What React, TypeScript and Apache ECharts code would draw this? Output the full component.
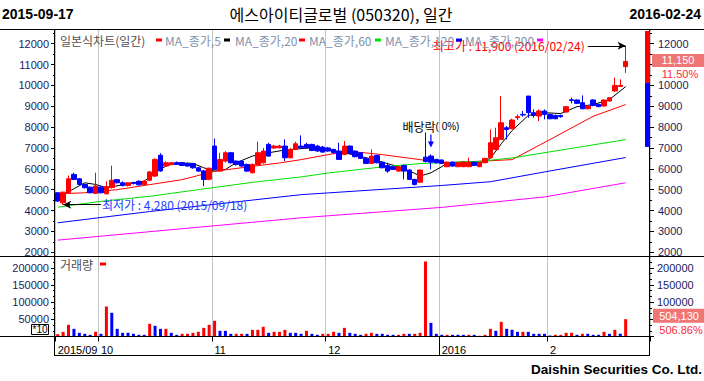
import React, { useEffect, useRef } from 'react';
import * as echarts from 'echarts';

// ---------------- data ----------------
const dates: string[] = [
  '2015/09/17', '2015/09/18', '2015/09/21', '2015/09/22', '2015/09/23', '2015/09/24', '2015/09/25', '2015/09/30',
  '2015/10/01', '2015/10/02', '2015/10/05', '2015/10/06', '2015/10/07', '2015/10/08', '2015/10/12', '2015/10/13',
  '2015/10/14', '2015/10/15', '2015/10/16', '2015/10/19', '2015/10/20', '2015/10/21', '2015/10/22', '2015/10/23',
  '2015/10/26', '2015/10/27', '2015/10/28', '2015/10/29', '2015/10/30',
  '2015/11/02', '2015/11/03', '2015/11/04', '2015/11/05', '2015/11/06', '2015/11/09', '2015/11/10', '2015/11/11',
  '2015/11/12', '2015/11/13', '2015/11/16', '2015/11/17', '2015/11/18', '2015/11/19', '2015/11/20', '2015/11/23',
  '2015/11/24', '2015/11/25', '2015/11/26', '2015/11/27', '2015/11/30',
  '2015/12/01', '2015/12/02', '2015/12/03', '2015/12/04', '2015/12/07', '2015/12/08', '2015/12/09', '2015/12/10',
  '2015/12/11', '2015/12/14', '2015/12/15', '2015/12/16', '2015/12/17', '2015/12/18', '2015/12/21', '2015/12/22',
  '2015/12/23', '2015/12/24', '2015/12/28', '2015/12/29', '2015/12/30',
  '2016/01/04', '2016/01/05', '2016/01/06', '2016/01/07', '2016/01/08', '2016/01/11', '2016/01/12', '2016/01/13',
  '2016/01/14', '2016/01/15', '2016/01/18', '2016/01/19', '2016/01/20', '2016/01/21', '2016/01/22', '2016/01/25',
  '2016/01/26', '2016/01/27', '2016/01/28', '2016/01/29',
  '2016/02/01', '2016/02/02', '2016/02/03', '2016/02/04', '2016/02/05', '2016/02/11', '2016/02/12', '2016/02/15',
  '2016/02/16', '2016/02/17', '2016/02/18', '2016/02/19', '2016/02/22', '2016/02/23', '2016/02/24',
];
const blankSlots: string[] = ['_a', '_b', '_c', '_d'];

const opens: number[] = [
  4850, 4370, 4850, 5730, 5520, 5250, 5120, 4820,
  5120, 4800, 5100, 5480, 5330, 5200, 5330, 5400, 5250, 5450, 5650, 6650, 6130, 6200, 6290, 6290, 6250, 6250, 6050, 5900, 5500,
  7090, 5890, 6370, 6770, 6370, 6370, 6210, 5810, 6210, 6290, 7170, 7000, 7010, 7090, 6530, 6930, 7090, 7170, 7170, 7090, 7040,
  7000, 6930, 6850, 6690, 7090, 6850, 6770, 6500, 6260, 6640, 6320, 6160, 6100, 5890, 6160, 5940, 5490, 5360, 6560, 6610, 6450,
  6420, 6100, 6320, 6100, 6100, 6100, 6320, 6100, 6290, 6530, 6930, 7410, 7970, 7920, 8450, 8610, 9490, 8690, 8530, 8770,
  8610, 8560, 8560, 8720, 9310, 9300, 9170, 8880, 9300, 9090, 9010, 9250, 9730, 9950, 10900,
];
const highs: number[] = [
  4880, 4900, 5680, 5810, 5560, 5280, 5150, 5810,
  5200, 5400, 6150, 5500, 5400, 5350, 5380, 5450, 5450, 5900, 6500, 6750, 6350, 6330, 6350, 6330, 6300, 6280, 6100, 5950, 6050,
  7450, 6770, 6850, 6800, 6400, 6400, 6250, 6250, 7300, 7000, 7250, 7150, 7150, 7410, 7000, 7300, 7600, 7250, 7200, 7150, 7100,
  7050, 6960, 7250, 7330, 7120, 6880, 6800, 6530, 6930, 6680, 6350, 6290, 6150, 6130, 6200, 5970, 5520, 5960, 7740, 6690, 6480,
  6450, 6350, 6350, 6320, 6350, 6530, 6350, 6320, 6530, 7890, 7970, 9490, 8050, 8400, 8610, 8770, 9490, 8850, 8850, 8850,
  8650, 8600, 8600, 9000, 9410, 9330, 9520, 9050, 9330, 9120, 9320, 9430, 10370, 10290, 11900,
];
const lows: number[] = [
  4420, 4280, 4820, 5470, 5230, 5060, 4830, 4800,
  4820, 4780, 5050, 5300, 5150, 5150, 5250, 5200, 5200, 5420, 5600, 5850, 6100, 6180, 6200, 6150, 6100, 6000, 5850, 5170, 5450,
  5950, 5850, 6300, 6250, 6150, 6100, 5850, 5780, 6180, 6250, 6580, 6950, 6980, 6370, 6500, 6900, 6980, 6980, 6850, 6820, 6780,
  6820, 6740, 6420, 6650, 6700, 6550, 6470, 6230, 6230, 6260, 6020, 5810, 5950, 5860, 5490, 5460, 5200, 5340, 6300, 5970, 6260,
  6230, 6080, 6100, 6080, 6080, 6080, 6130, 6080, 6270, 6500, 6900, 7380, 7410, 7900, 8340, 8500, 8450, 8450, 8290, 8370,
  8380, 8380, 8450, 8700, 9140, 9120, 8860, 8850, 9000, 8960, 8990, 9230, 9700, 9940, 10600,
];
const closes: number[] = [
  4450, 4880, 5520, 5490, 5250, 5090, 4850, 5170,
  4850, 5150, 5450, 5330, 5200, 5330, 5300, 5230, 5400, 5850, 6450, 5900, 6290, 6290, 6210, 6160, 6130, 6050, 5890, 5490, 6030,
  5970, 6450, 6770, 6290, 6210, 6130, 5890, 6210, 6770, 6850, 6610, 7090, 7090, 6530, 6930, 7200, 7010, 7010, 6880, 6850, 6800,
  6850, 6770, 6450, 7090, 6740, 6580, 6500, 6260, 6610, 6290, 6050, 5890, 5970, 6100, 5890, 5490, 5250, 5940, 6350, 6320, 6290,
  6260, 6320, 6130, 6290, 6320, 6290, 6160, 6290, 6500, 7250, 7490, 8210, 7890, 8340, 8500, 8580, 8690, 8560, 8770, 8610,
  8400, 8400, 8500, 8980, 9280, 9140, 8880, 9010, 9040, 8980, 9300, 9410, 10000, 10000, 11150,
];
// volume in units of 10 shares (axis shows "*10")
const volumes: number[] = [
  6800, 13600, 34000, 22300, 10700, 7800, 4900, 13600,
  7800, 87400, 69000, 22300, 10700, 10700, 7800, 4900, 4900, 36900, 31100, 22300, 22300, 10700, 4900, 7800, 7800, 10700, 13600, 25200, 34000,
  45600, 16500, 16500, 7800, 7800, 7800, 7800, 19400, 19400, 28200, 10700, 13600, 13600, 19400, 10700, 10700, 7800, 16500, 7800, 4900, 7800,
  7800, 13600, 10700, 25200, 10700, 7800, 4900, 7800, 10700, 7800, 7800, 4900, 4900, 4900, 7800, 7800, 7800, 10700, 218500, 39800, 7800,
  4900, 4900, 4900, 4900, 4900, 4900, 4900, 1900, 4900, 22300, 16500, 42700, 22300, 19400, 13600, 13600, 13600, 7800, 7800, 7800,
  2900, 4900, 4900, 10700, 10700, 4900, 7800, 7800, 4900, 4900, 13600, 7800, 19400, 8300, 50413,
];
const volumeUp: number[] = [
  1, 1, 1, 0, 0, 0, 0, 1,
  0, 1, 0, 0, 0, 0, 0, 0, 0, 1, 0, 0, 1, 0, 0, 1, 1, 1, 1, 1, 1,
  1, 0, 0, 0, 1, 1, 0, 1, 1, 1, 0, 1, 1, 1, 0, 0, 0, 1, 0, 0, 1,
  1, 1, 0, 1, 0, 0, 0, 1, 1, 0, 0, 0, 0, 1, 1, 0, 1, 1, 1, 0, 0,
  0, 1, 0, 0, 0, 1, 0, 0, 1, 1, 0, 1, 0, 0, 0, 1, 0, 0, 0, 0,
  0, 1, 1, 1, 1, 0, 1, 0, 0, 0, 1, 0, 1, 0, 1,
];
// moving averages: [day index, value]
const ma5: number[][] = [
  [1, 4750], [2, 4900], [5, 5330], [7, 5250], [9, 5090], [14, 5330], [16, 5410], [18, 5810], [20, 6130], [22, 6290],
  [25, 6260], [27, 6050], [29, 5890], [31, 5970], [33, 6290], [36, 6610], [39, 6770], [42, 6900], [47, 7010], [50, 6930],
  [53, 6770], [57, 6530], [60, 6320], [63, 6100], [66, 5780], [67, 5650], [69, 5810], [71, 6100], [72, 6290], [75, 6320],
  [78, 6290], [80, 6500], [82, 7200], [84, 7830], [87, 8560], [90, 8690], [93, 8650], [96, 8980], [99, 9080], [102, 9320], [105, 9940],
];
const ma20: number[][] = [
  [0, 4800], [5, 4850], [11, 5000], [17, 5240], [23, 5480], [29, 5880], [36, 6120], [41, 6280], [45, 6440], [50, 6680],
  [54, 6840], [60, 6680], [67, 6440], [71, 6280], [78, 6360], [84, 6440], [91, 7400], [99, 8520], [105, 9080],
];
const ma60: number[][] = [
  [0, 4160], [8, 4440], [17, 4680], [26, 5000], [36, 5350], [45, 5610], [50, 5800], [60, 6090], [67, 6250], [78, 6360],
  [84, 6520], [105, 7400],
];
const ma120: number[][] = [
  [0, 3410], [17, 3950], [45, 4760], [71, 5200], [80, 5380], [90, 5850], [105, 6540],
];
const ma200: number[][] = [
  [0, 2580], [45, 3650], [71, 4150], [90, 4650], [105, 5330],
];

const monthTickLabels: string[] = ['2015/09', '10', '11', '12', '2016', '2'];
const stockTitle = '에스아이티글로벌 (050320), 일간';
const chartTypeLabel = '일본식차트(일간)';
const maNames: string[] = ['MA_종가,5', 'MA_종가,20', 'MA_종가,60', 'MA_종가,120', 'MA_종가,200'];
const maColors: string[] = ['#000000', '#ff0000', '#00e000', '#0000ff', '#ff00ff'];
const volumeLabel = '거래량';
const volumeMultiplier = 10;
const volumeChangeLabel = '506.86%';
const dividendIndex = 69;
const dividendText = '배당락';
const dividendRate = '( 0%)';
const rangeBarRed: number[] = [12681, 10120];
const rangeBarBlue: number[] = [10120, 7050];
const brand = 'Daishin Securities Co. Ltd.';

// ---------------- styling ----------------
const KR = '"Noto Sans CJK KR", "Noto Sans", sans-serif';
const SANS = '"Liberation Sans", Arial, sans-serif';
const AXIS_TXT = '#1c1c5c';
const UP = '#ff0000';
const DOWN = '#0000ff';
const GRID_LEFT = 55;
const GRID_RIGHT_X = 650;

const fmt = (n: number) => n.toLocaleString('en-US');

export default function App() {
  const ref = useRef<HTMLDivElement>(null);

  useEffect(() => {
    document.body.style.margin = '0';
    const el = ref.current!;
    const chart = echarts.init(el, null, { renderer: 'svg' });

    const cats = dates.concat(blankSlots);
    const monthStartSet = new Set<number>();
    const monthLabel: Record<number, string> = {};
    let k = 0;
    dates.forEach((d, i) => {
      if (i === 0 || d.slice(0, 7) !== dates[i - 1].slice(0, 7)) {
        monthStartSet.add(i);
        monthLabel[i] = monthTickLabels[k++];
      }
    });
    const isMonth = (i: number) => monthStartSet.has(i);

    const candleData = dates.map((_, i) => [opens[i], closes[i], lows[i], highs[i]]);
    const volData = volumes.map((v, i) => ({ value: v, itemStyle: { color: volumeUp[i] ? UP : DOWN } }));

    let maxIdx = 0;
    let minIdx = 0;
    highs.forEach((h, i) => { if (h > highs[maxIdx]) maxIdx = i; });
    lows.forEach((l, i) => { if (l < lows[minIdx]) minIdx = i; });
    const maxV = highs[maxIdx];
    const minV = lows[minIdx];
    const last = closes.length - 1;

    const xAxisCommon = {
      type: 'category' as const,
      data: cats,
      boundaryGap: true,
      axisLine: { show: false },
      splitLine: { show: true, interval: (i: number) => isMonth(i), lineStyle: { color: '#c4c4c4', width: 1 } },
    };

    const plain = (v: number) => String(Math.round(v));
    // tick labels on the right that sit under the price / volume tags are hidden there
    const lastPriceTick = Math.round(closes[last] / 1000) * 1000;
    const lastVolTick = Math.round(volumes[last] / 50000) * 50000;

    const yMainCommon = {
      type: 'value' as const,
      gridIndex: 0,
      min: 1794,
      max: 12681,
      minInterval: 1000,
      maxInterval: 1000,
      axisLine: { show: false },
      axisTick: { show: true, length: 4, lineStyle: { color: '#000' } },
      minorTick: { show: true, splitNumber: 2, length: 2, lineStyle: { color: '#000' } },
      splitLine: { show: false },
      axisLabel: { showMinLabel: false, showMaxLabel: false, fontSize: 11, fontFamily: SANS, color: AXIS_TXT, margin: 6, formatter: plain },
    };
    const yVolCommon = {
      type: 'value' as const,
      gridIndex: 1,
      min: 0,
      max: 233000,
      minInterval: 50000,
      maxInterval: 50000,
      axisLine: { show: false },
      axisTick: { show: true, length: 4, lineStyle: { color: '#000' } },
      minorTick: { show: true, splitNumber: 3, length: 2, lineStyle: { color: '#000' } },
      splitLine: { show: false },
      axisLabel: { showMinLabel: false, showMaxLabel: false, fontSize: 11, fontFamily: SANS, color: AXIS_TXT, margin: 6, formatter: plain },
    };

    const maSeries = [ma5, ma20, ma60, ma120, ma200].map((d, i) => ({
      type: 'line',
      name: maNames[i],
      xAxisIndex: 0,
      yAxisIndex: 0,
      data: d,
      showSymbol: false,
      symbol: 'none',
      z: 2,
      lineStyle: { color: maColors[i], width: 1 },
      silent: true,
    }));

    const option: any = {
      animation: false,
      backgroundColor: '#ffffff',
      grid: [
        { left: GRID_LEFT, right: 704 - GRID_RIGHT_X, top: 29.5, height: 227 },
        { left: GRID_LEFT, right: 704 - GRID_RIGHT_X, top: 256.5, height: 80 },
      ],
      xAxis: [
        { ...xAxisCommon, gridIndex: 0, axisTick: { show: false }, axisLabel: { show: false } },
        {
          ...xAxisCommon,
          gridIndex: 1,
          axisTick: { show: true, interval: (i: number) => isMonth(i), length: 5, lineStyle: { color: '#000' } },
          axisLabel: {
            show: true,
            interval: (i: number) => isMonth(i),
            formatter: (_v: string, i: number) => monthLabel[i] || '',
            align: 'left',
            margin: 8,
            fontSize: 11,
            fontFamily: SANS,
            color: '#000',
          },
        },
      ],
      yAxis: [
        { ...yMainCommon, position: 'left' },
        {
          ...yMainCommon,
          position: 'right',
          axisLabel: { ...yMainCommon.axisLabel, margin: 8, formatter: (v: number) => (v === lastPriceTick ? '' : plain(v)) },
        },
        { ...yVolCommon, position: 'left' },
        {
          ...yVolCommon,
          position: 'right',
          axisLabel: { ...yVolCommon.axisLabel, margin: 7, formatter: (v: number) => (v === lastVolTick ? '' : plain(v)) },
        },
      ],
      series: [
        ...maSeries,
        {
          type: 'candlestick',
          name: chartTypeLabel,
          xAxisIndex: 0,
          yAxisIndex: 0,
          data: candleData,
          barWidth: 5,
          z: 3,
          itemStyle: { color: UP, color0: DOWN, borderColor: UP, borderColor0: DOWN, borderWidth: 1 },
          markLine: {
            silent: true,
            animation: false,
            lineStyle: { color: '#000', width: 1, type: 'solid' },
            symbolSize: [6, 8],
            data: [
              [
                {
                  coord: [maxIdx - 7, maxV],
                  symbol: 'none',
                  label: {
                    show: true,
                    position: 'start',
                    distance: 3,
                    formatter: `최고가 : ${fmt(maxV)} (${dates[maxIdx]})`,
                    color: '#ff0000',
                    fontSize: 12,
                    fontFamily: KR,
                  },
                },
                { coord: [maxIdx, maxV], symbol: 'arrow' },
              ],
              [
                {
                  coord: [minIdx, minV],
                  symbol: 'arrow',
                  label: {
                    show: true,
                    position: 'end',
                    distance: 1,
                    formatter: `최저가 : ${fmt(minV)} (${dates[minIdx]})`,
                    color: '#2040ff',
                    fontSize: 12,
                    fontFamily: KR,
                  },
                },
                { coord: [minIdx + 7, minV], symbol: 'none' },
              ],
            ],
          },
          markPoint: {
            silent: true,
            animation: false,
            data: [
              {
                coord: [dividendIndex, highs[dividendIndex]],
                symbol: 'path://M2,0 L3,0 L3,7 L5,7 L2.5,13 L0,7 L2,7 Z',
                symbolSize: [6, 13],
                symbolOffset: [0, -13.5],
                itemStyle: { color: '#0000ff' },
                label: {
                  show: true,
                  position: 'top',
                  distance: 2,
                  formatter: `{a|${dividendText}}{b|${dividendRate}}`,
                  rich: {
                    a: { fontSize: 12, fontFamily: KR, color: '#000' },
                    b: { fontSize: 10, fontFamily: SANS, color: '#000' },
                  },
                },
              },
            ],
          },
        },
        {
          type: 'bar',
          name: volumeLabel,
          xAxisIndex: 1,
          yAxisIndex: 2,
          data: volData,
          barWidth: 3,
          silent: true,
        },
      ],
    };

    chart.setOption(option);

    const yMain = (v: number) => chart.convertToPixel({ yAxisIndex: 0 }, v) as number;
    const yVol = (v: number) => chart.convertToPixel({ yAxisIndex: 2 }, v) as number;
    const xCat = (i: number) => chart.convertToPixel({ xAxisIndex: 1 }, i) as number;
    const band = xCat(1) - xCat(0);

    const line = (x1: number, y1: number, x2: number, y2: number, color = '#000') => ({
      type: 'line', silent: true, z: 100, shape: { x1, y1, x2, y2 }, style: { stroke: color, lineWidth: 1 },
    });
    const text = (x: number, y: number, t: string, font: string, fill: string, align = 'left') => ({
      type: 'text', silent: true, z: 101, x, y,
      style: { text: t, font, fill, align, verticalAlign: 'middle' },
    });
    const rect = (x: number, y: number, w: number, h: number, fill: string, stroke?: string) => ({
      type: 'rect', silent: true, z: 100, shape: { x, y, width: w, height: h },
      style: stroke ? { fill, stroke, lineWidth: 1 } : { fill },
    });

    const yearIdx = dates.findIndex((d, i) => i > 0 && d.slice(0, 4) !== dates[i - 1].slice(0, 4));
    const yearX = Math.round(xCat(yearIdx) - band / 2) + 0.5;

    const lastClose = closes[last];
    const pct = ((closes[last] - closes[last - 1]) / closes[last - 1]) * 100;
    const priceY = yMain(lastClose);
    const volY = yVol(volumes[last]);

    const g: any[] = [];
    // frame
    g.push(line(0, 29.5, 704, 29.5));
    g.push(line(0, 256.5, 704, 256.5));
    g.push(line(0, 336.5, 650, 336.5));
    g.push(line(54.5, 355.5, 650, 355.5));
    g.push(line(54.5, 29.5, 54.5, 356));
    g.push(line(649.5, 29.5, 649.5, 356));
    g.push(line(yearX, 336.5, yearX, 356));

    // title row
    const d0 = dates[0].replace(/\//g, '-');
    const d1 = dates[last].replace(/\//g, '-');
    g.push(text(2, 14, d0, `bold 14px ${SANS}`, '#000'));
    g.push(text(341, 14, stockTitle, `16px ${KR}`, '#000', 'center'));
    g.push(text(701, 14, d1, `bold 14px ${SANS}`, '#000', 'right'));

    // legend
    const legendFont = `12px ${KR}`;
    g.push(text(60, 40, chartTypeLabel, legendFont, '#505050'));
    g.push(rect(156, 38.5, 6, 3, UP));
    const legX = [165, 235, 309, 385, 465];
    const markX = [224, 299, 375, 456, 537];
    maNames.forEach((n, i) => {
      g.push(text(legX[i], 40, n, legendFont, '#8092ad'));
      g.push(rect(markX[i], 38.5, 6, 3, maColors[i]));
    });

    // range bar on right axis
    g.push(rect(645, yMain(rangeBarRed[0]) + 1.5, 5, yMain(rangeBarRed[1]) - yMain(rangeBarRed[0]) - 1.5, '#ff0000'));
    g.push(rect(645, yMain(rangeBarBlue[0]), 5, yMain(rangeBarBlue[1]) - yMain(rangeBarBlue[0]), '#0000ff'));

    // current price tag
    g.push(rect(652, priceY - 7.5, 52, 13, '#f07575'));
    g.push(text(678, priceY - 1, fmt(lastClose), `11px ${SANS}`, '#ffffff', 'center'));
    g.push(text(680, priceY + 13, `${pct.toFixed(2)}%`, `11px ${SANS}`, '#ff2a3a', 'center'));

    // volume panel labels
    g.push(text(60, 264, volumeLabel, legendFont, '#505050'));
    g.push(rect(100, 262.5, 6, 3, UP));
    g.push(rect(31.5, 324.5, 17, 10, '#ffffff', '#000000'));
    g.push(text(40, 329.5, `*${volumeMultiplier}`, `10px ${SANS}`, '#000', 'center'));
    g.push(rect(653, volY - 10.5, 51, 14, '#f07575'));
    g.push(text(679, volY - 3.5, fmt(volumes[last] * volumeMultiplier), `11px ${SANS}`, '#ffffff', 'center'));
    g.push(text(681, volY + 11, volumeChangeLabel, `11px ${SANS}`, '#ff2a3a', 'center'));

    // footer
    g.push(text(702, 369, brand, `bold 13.5px ${SANS}`, '#000', 'right'));

    chart.setOption({ graphic: g });

    return () => chart.dispose();
  }, []);

  return (
    <div
      ref={ref}
      style={{ position: 'fixed', left: 0, top: 0, width: 704, height: 381, background: '#fff' }}
    />
  );
}
